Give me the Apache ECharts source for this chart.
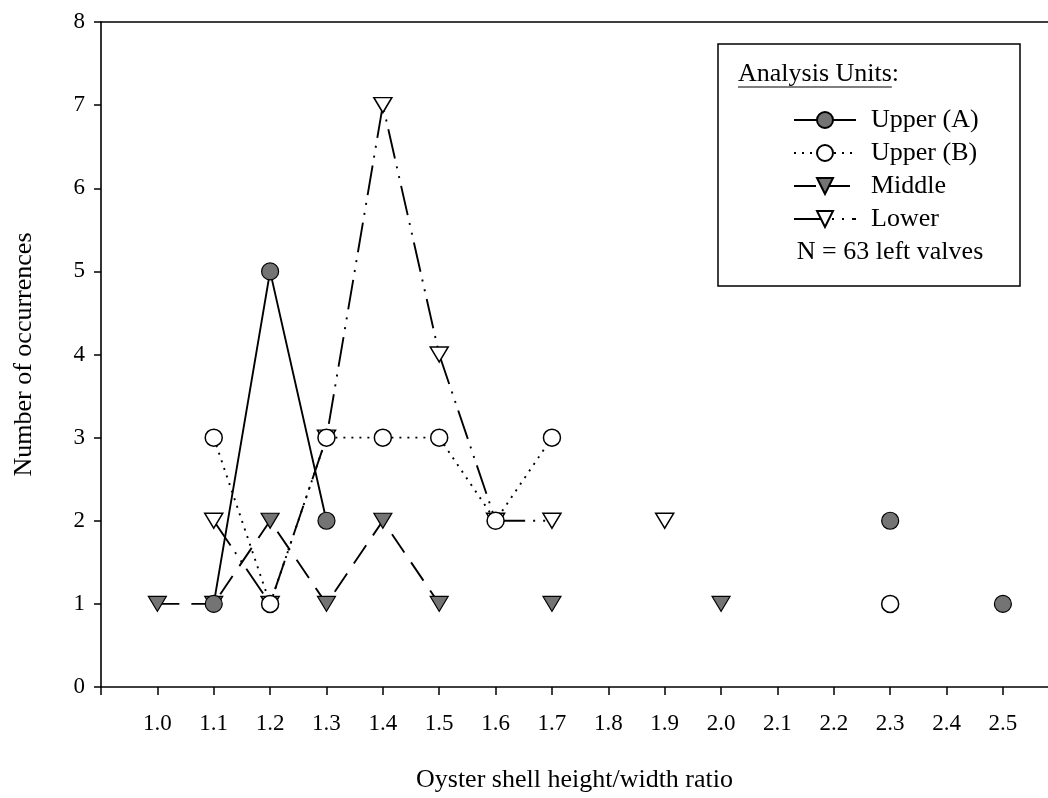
<!DOCTYPE html>
<html>
<head>
<meta charset="utf-8">
<script src="https://cdn.jsdelivr.net/npm/echarts@6/dist/echarts.min.js"></script>
<style>
html,body{margin:0;padding:0;background:#fff;}
#chart{width:1048px;height:798px;}
</style>
</head>
<body>
<div id="chart"></div>
<script>
// ---- data ----
const ratios = [1.0,1.1,1.2,1.3,1.4,1.5,1.6,1.7,1.8,1.9,2.0,2.1,2.2,2.3,2.4,2.5];
const upperA = [null,1,5,2,null,null,null,null,null,null,null,null,null,2,null,1];
const upperB = [null,3,1,3,3,3,2,3,null,null,null,null,null,1,null,null];
const middle = [1,1,2,1,2,1,null,1,null,null,1,null,null,null,null,null];
const lower  = [null,2,1,3,7,4,2,2,null,2,null,null,null,null,null,null];
const seriesNames = ['Upper (A)','Upper (B)','Middle','Lower'];
const yTicks = [0,1,2,3,4,5,6,7,8];
const legendTitle = 'Analysis Units';
const noteText = 'N = 63 left valves';
const xTitle = 'Oyster shell height/width ratio';
const yTitle = 'Number of occurrences';

const pairs = arr => ratios.map((x,i)=>[x, arr[i]]);
const FONT = '"Liberation Serif", "Times New Roman", serif';
const GRAY = '#747474';

const chart = echarts.init(document.getElementById('chart'), null, {renderer:'canvas'});

const LFS = 26;
const ctx = document.createElement('canvas').getContext('2d');
ctx.font = LFS + 'px "Liberation Serif"';
const titleW = ctx.measureText(legendTitle).width;

const boxL = 718, boxT = 44, boxR = 1020, boxB = 286;
const titleX = 738, titleY = 74;

function mk(name, data, opt){
  return Object.assign({
    name, type:'line', data: pairs(data), connectNulls:false,
    silent:true, animation:false
  }, opt);
}

const XMIN = 0.9, XMAX = 2.58;

chart.setOption({
  animation:false,
  backgroundColor:'#fff',
  grid:{left:101, top:22, right:0, bottom:108, show:false},
  xAxis:[{
    type:'value', min:XMIN, max:XMAX,
    name: xTitle, nameLocation:'middle', nameGap:80,
    nameTextStyle:{fontFamily:FONT, fontSize:26, color:'#000'},
    axisLine:{show:true, onZero:false, lineStyle:{color:'#000', width:1.6}},
    axisTick:{show:true, length:8, lineStyle:{color:'#000', width:1.5},
      customValues:[0.9].concat(ratios)},
    axisLabel:{
      margin:25, fontFamily:FONT, fontSize:23, color:'#000',
      customValues: ratios,
      formatter: v => Number(v).toFixed(1)
    },
    splitLine:{show:false}
  },{
    type:'value', position:'top', min:XMIN, max:XMAX,
    axisLine:{show:true, onZero:false, lineStyle:{color:'#000', width:1.6}},
    axisTick:{show:false}, axisLabel:{show:false}, splitLine:{show:false}
  }],
  yAxis:{
    type:'value', min:0, max:8, interval:1,
    name: yTitle, nameLocation:'middle', nameGap:64, nameRotate:90,
    nameTextStyle:{fontFamily:FONT, fontSize:26, color:'#000'},
    axisLine:{show:true, lineStyle:{color:'#000', width:1.6}},
    axisTick:{show:true, length:7, lineStyle:{color:'#000', width:1.5}},
    axisLabel:{margin:16, fontFamily:FONT, fontSize:23, color:'#000',
      customValues: yTicks},
    splitLine:{show:false}
  },
  legend:{
    orient:'vertical', left:788, top:102,
    data: seriesNames,
    itemWidth:62, itemHeight:20, itemGap:7,
    textStyle:{fontFamily:FONT, fontSize:LFS, color:'#000', padding:[0,0,0,10]},
    selectedMode:false
  },
  graphic:[
    {type:'rect', shape:{x:boxL, y:boxT, width:boxR-boxL, height:boxB-boxT},
     style:{fill:'#fff', stroke:'#000', lineWidth:1.5}, z:1},
    {type:'text', x:titleX, y:titleY,
     style:{text:legendTitle + ':', font:LFS + 'px "Liberation Serif"', fill:'#000', textVerticalAlign:'middle'}, z:5},
    {type:'line', shape:{x1:titleX, y1:titleY+13, x2:titleX+titleW, y2:titleY+13},
     style:{stroke:'#000', lineWidth:1.2}, z:5},
    {type:'text', x:890, y:252,
     style:{text:noteText, font:LFS + 'px "Liberation Serif"', fill:'#000', textAlign:'center', textVerticalAlign:'middle'}, z:5}
  ],
  series:[
    mk('Middle', middle, {
      symbol:'triangle', symbolRotate:180, symbolSize:[18,15],
      itemStyle:{color:GRAY, borderColor:'#000', borderWidth:1.2},
      lineStyle:{color:'#000', width:1.9, type:[22,12]}
    }),
    mk('Lower', lower, {
      symbol:'triangle', symbolRotate:180, symbolSize:[18,15],
      itemStyle:{color:'#fff', borderColor:'#000', borderWidth:1.5},
      lineStyle:{color:'#000', width:1.9, type:[30,8,2,8,2,8]}
    }),
    mk('Upper (B)', upperB, {
      symbol:'circle', symbolSize:17,
      itemStyle:{color:'#fff', borderColor:'#000', borderWidth:1.5},
      lineStyle:{color:'#000', width:1.9, type:[2,6]}
    }),
    mk('Upper (A)', upperA, {
      symbol:'circle', symbolSize:17,
      itemStyle:{color:GRAY, borderColor:'#000', borderWidth:1.2},
      lineStyle:{color:'#000', width:1.9, type:'solid'}
    })
  ]
});
</script>
</body>
</html>
